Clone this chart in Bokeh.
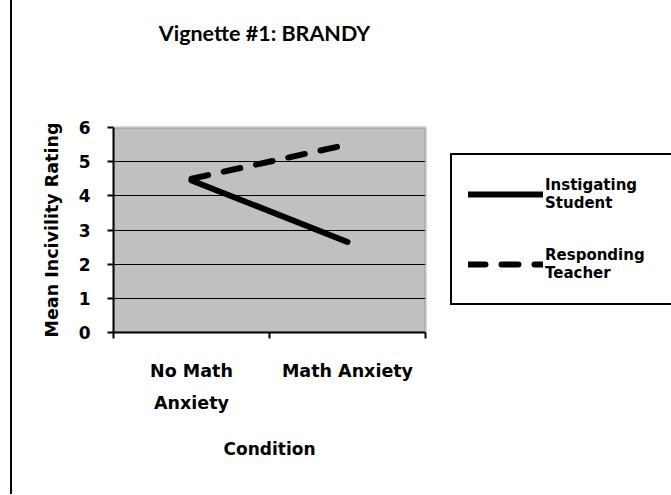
from bokeh.plotting import figure
from bokeh.models import (Range1d, FixedTicker, Legend, LegendItem, LinearAxis,
                          BoxAnnotation, Label)
from bokeh.embed import file_html
from bokeh.resources import INLINE

categories = ["No Math\nAnxiety", "Math Anxiety"]
student = [4.45, 2.65]
teacher = [4.5, 5.5]
y_ticks = [0, 1, 2, 3, 4, 5, 6]
series_names = ["Instigating\nStudent", "Responding\nTeacher"]
chart_title = "Vignette #1: BRANDY"
x_title = "Condition"
y_title = "Mean Incivility Rating"

n = len(categories)
xs = [i + 0.5 for i in range(n)]
bounds = list(range(n + 1))
y_lo, y_hi = y_ticks[0], y_ticks[-1]

# layout (pixels inside the canvas)
W, H = 659, 494
left_px, frame_top, plot_top, plot_bottom = 101, 10, 127, 332
title_y_px = 32
plot_w, plot_h = 312, plot_bottom - plot_top
frame_w, frame_h = W - left_px, plot_bottom - frame_top

p = figure(width=W, height=H, output_backend="svg", toolbar_location=None,
           x_range=Range1d(0, n * frame_w / plot_w),
           y_range=Range1d(y_lo, y_lo + (y_hi - y_lo) * frame_h / plot_h),
           min_border_left=left_px, min_border_right=0, min_border_top=frame_top,
           min_border_bottom=H - plot_bottom,
           background_fill_color="white", border_fill_color="white")
p.styles = {"margin-left": "10px", "border-left": "2px solid black"}
p.outline_line_color = None
p.title.visible = False

# grey plotting area
p.add_layout(BoxAnnotation(left=0, right=n, bottom=y_lo, top=y_hi,
                           fill_color="#c0c0c0", fill_alpha=1, line_color=None,
                           level="image"))

# chart title
p.add_layout(Label(x=n / 2, y=y_lo + (y_hi - y_lo) * (plot_bottom - title_y_px) / plot_h,
                   text=chart_title, text_align="center", text_baseline="middle",
                   x_offset=-5, text_font="Lato", text_font_style="bold",
                   text_font_size="21.5px", text_color="black"))

# x axis (category labels)
xa = p.below[0]
xa.bounds = (0, n)
xa.ticker = FixedTicker(ticks=xs, minor_ticks=bounds)
xa.major_label_overrides = {x: c for x, c in zip(xs, categories)}
xa.major_tick_line_color = None
xa.major_tick_out = 0
xa.major_tick_in = 0
xa.minor_tick_out = 6
xa.minor_tick_in = 0
xa.minor_tick_line_color = "black"
xa.minor_tick_line_width = 2
xa.axis_line_color = "black"
xa.axis_line_width = 2
xa.major_label_text_font = "DejaVu Sans"
xa.major_label_text_font_style = "bold"
xa.major_label_text_font_size = "17.5px"
xa.major_label_text_line_height = 1.6
xa.major_label_text_color = "black"
xa.major_label_standoff = 22

# x axis title, centred under the grey plotting area
p.add_layout(LinearAxis(ticker=FixedTicker(ticks=[n / 2]),
                        major_label_overrides={n / 2: x_title},
                        axis_line_color=None, major_tick_line_color=None,
                        minor_tick_line_color=None, major_tick_out=0, major_tick_in=0,
                        major_label_standoff=23,
                        major_label_text_font="DejaVu Sans",
                        major_label_text_font_style="bold",
                        major_label_text_font_size="17px",
                        major_label_text_color="black"), "below")

# y axis
ya = p.left[0]
ya.bounds = (y_lo, y_hi)
ya.ticker = FixedTicker(ticks=y_ticks)
ya.major_tick_out = 6
ya.major_tick_in = 0
ya.major_tick_line_width = 2
ya.major_tick_line_color = "black"
ya.minor_tick_line_color = None
ya.axis_line_color = "black"
ya.axis_line_width = 2
ya.major_label_text_font = "DejaVu Sans"
ya.major_label_text_font_style = "bold"
ya.major_label_text_font_size = "17px"
ya.major_label_text_color = "black"
ya.major_label_standoff = 17

# y axis title, centred beside the grey plotting area
p.add_layout(LinearAxis(ticker=FixedTicker(ticks=[(y_lo + y_hi) / 2]),
                        major_label_overrides={(y_lo + y_hi) / 2: y_title},
                        major_label_orientation="parallel",
                        axis_line_color=None, major_tick_line_color=None,
                        minor_tick_line_color=None, major_tick_out=0, major_tick_in=0,
                        major_label_standoff=14,
                        major_label_text_font="DejaVu Sans",
                        major_label_text_font_style="bold",
                        major_label_text_font_size="17.5px",
                        major_label_text_color="black"), "left")

p.xgrid.visible = False
p.ygrid.ticker = FixedTicker(ticks=y_ticks[1:-1])
p.ygrid.grid_line_color = "black"
p.ygrid.grid_line_width = 1
try:
    p.ygrid.cross_bounds = (0, n)
except Exception:
    p.ygrid.visible = False
    p.segment(x0=0, x1=n, y0=y_ticks[1:-1], y1=y_ticks[1:-1],
              line_color="black", line_width=1)

# grey outline of the plotting area
p.add_layout(BoxAnnotation(left=0, right=n, bottom=y_lo, top=y_hi,
                           fill_color=None, line_color="#808080", line_width=3,
                           level="underlay"))

r1 = p.line(xs, student, line_color="black", line_width=6, line_cap="round")
r2 = p.line(xs, teacher, line_color="black", line_width=6, line_cap="round",
            line_dash="17 16")

legend = Legend(items=[LegendItem(label=series_names[0], renderers=[r1]),
                       LegendItem(label=series_names[1], renderers=[r2])],
                location=(337, 27))
legend.margin = 0
legend.border_line_color = "black"
legend.border_line_alpha = 1
legend.border_line_width = 2
legend.background_fill_color = "white"
legend.background_fill_alpha = 1
legend.label_text_font = "DejaVu Sans"
legend.label_text_font_style = "bold"
legend.label_text_font_size = "15px"
legend.label_text_color = "black"
legend.glyph_width = 75
legend.glyph_height = 46
legend.label_standoff = 2
legend.label_width = 125
legend.padding = 16
legend.spacing = 24
p.add_layout(legend)

open("out.html", "w").write(file_html(p, INLINE))
